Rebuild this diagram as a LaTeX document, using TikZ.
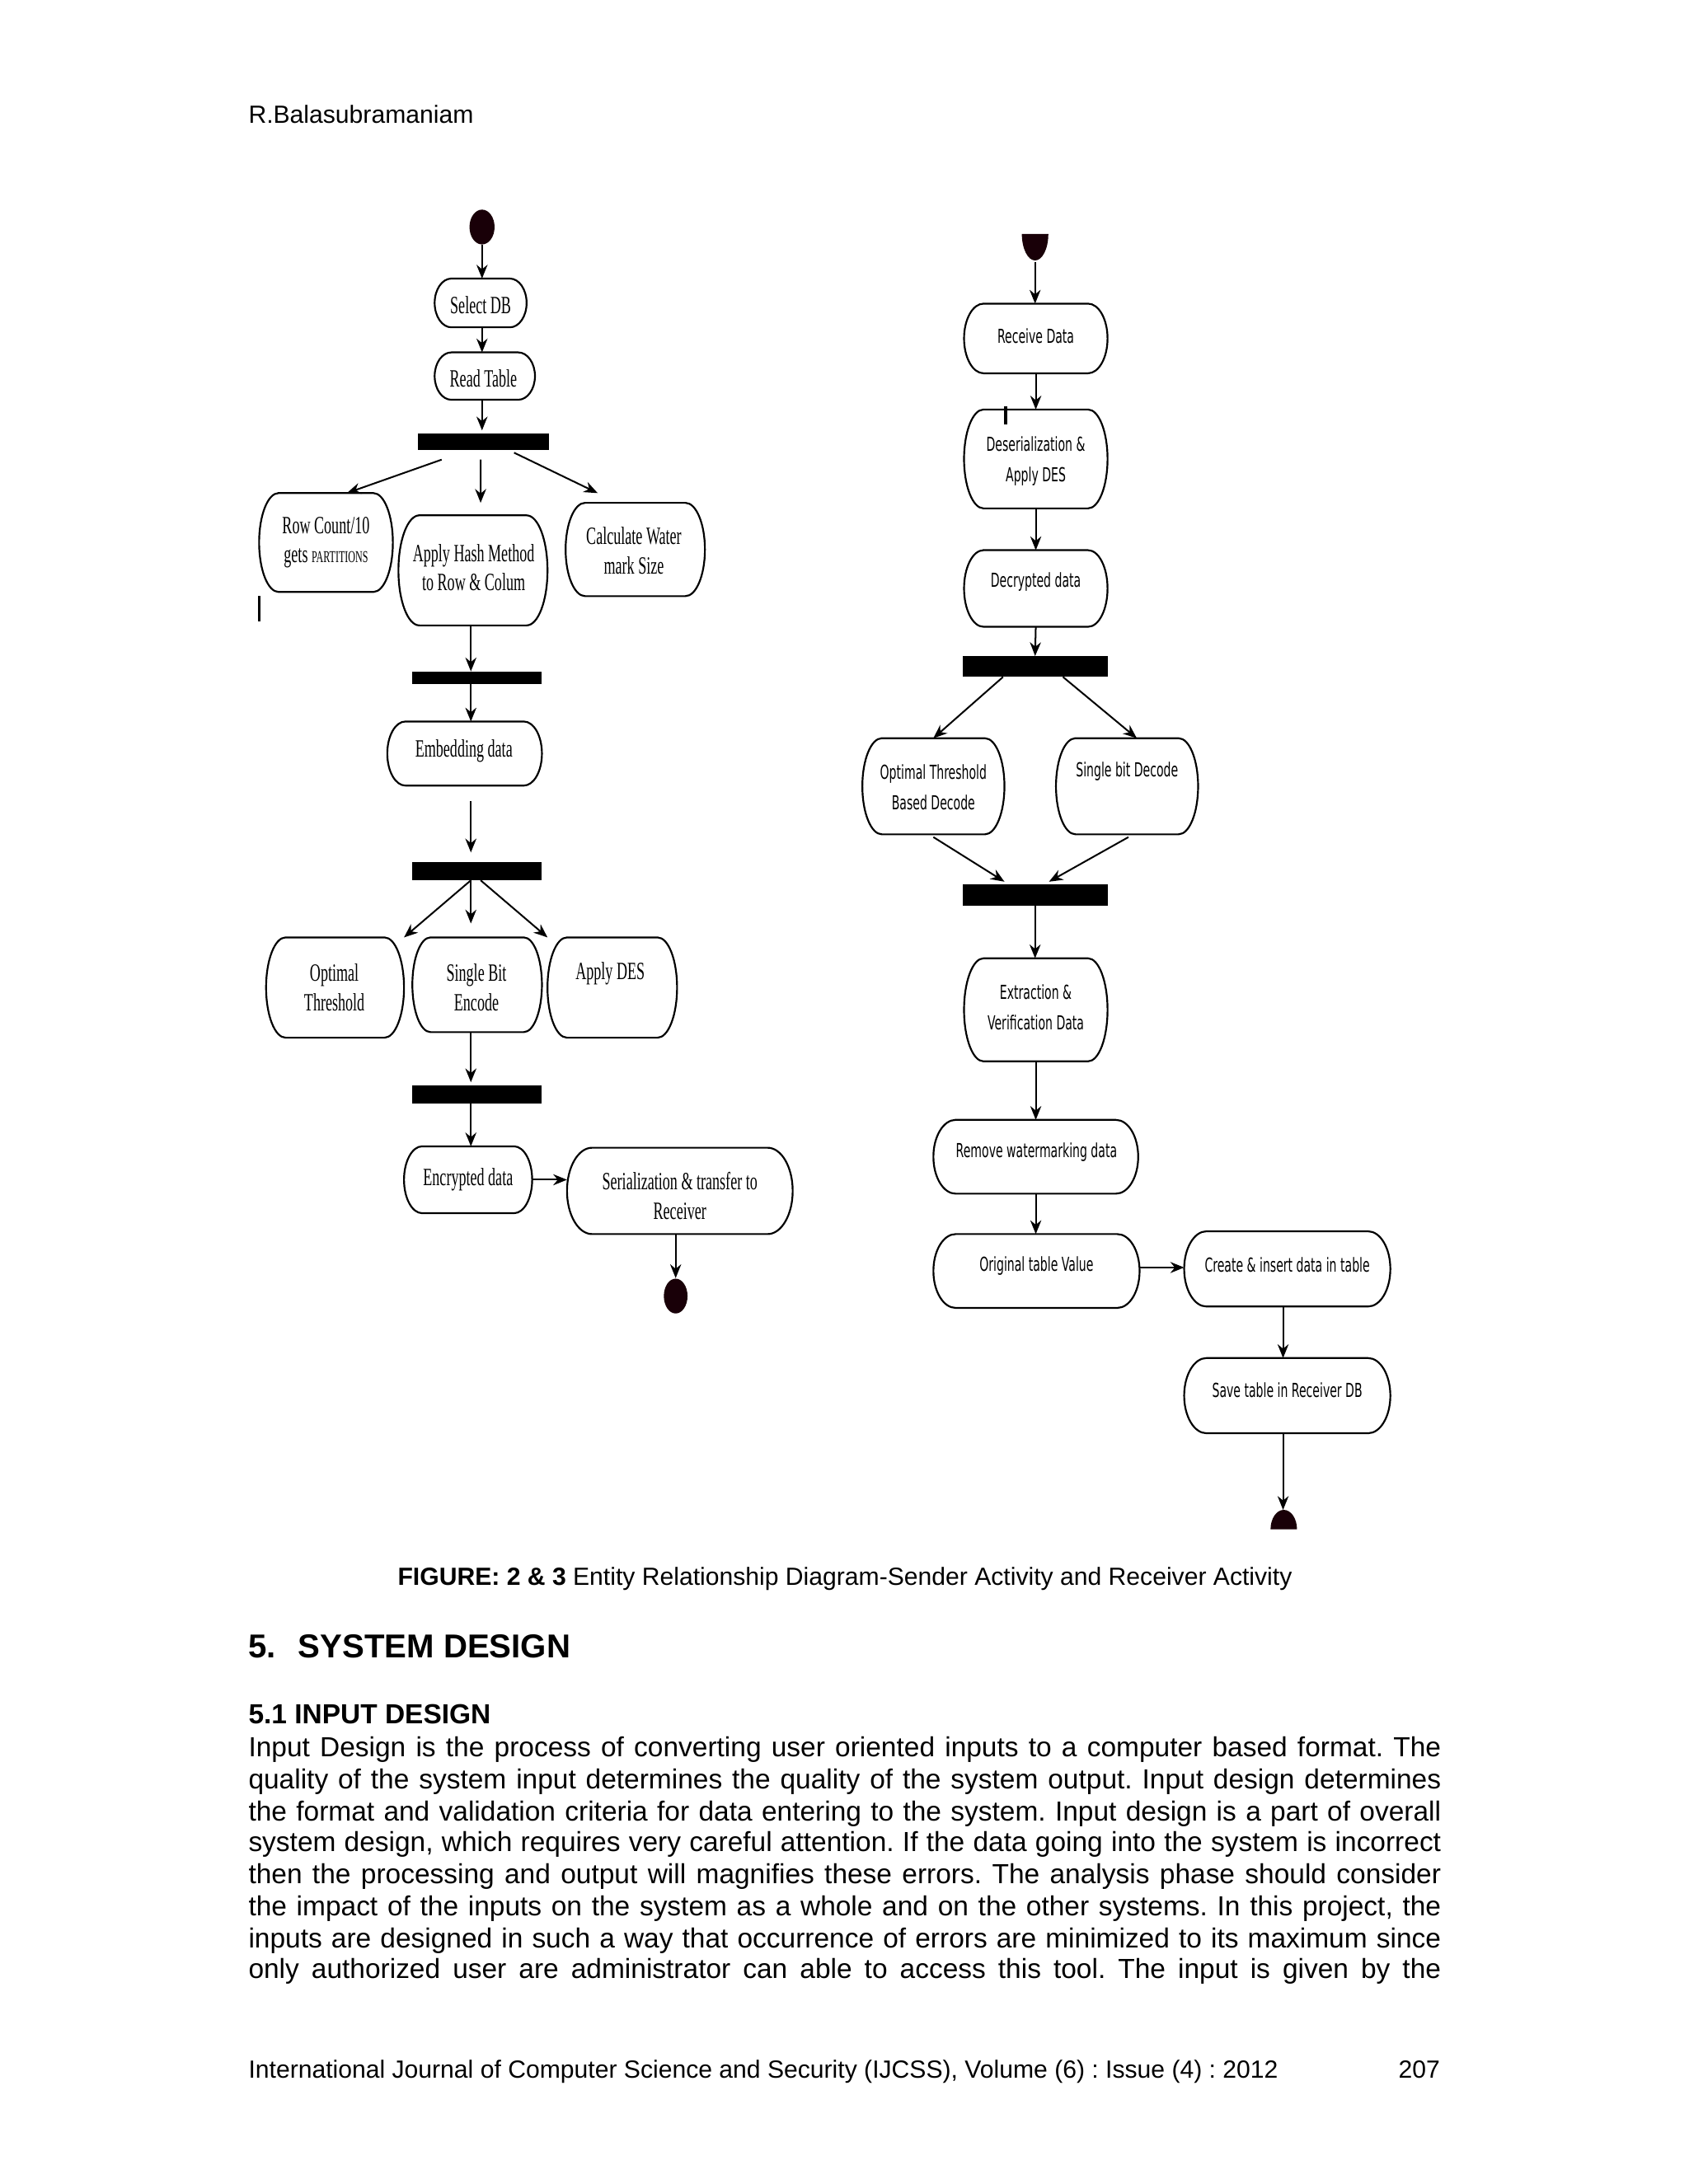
\documentclass[tikz,border=0pt]{standalone}
\usepackage{fontspec}
\setmainfont{Liberation Sans}
\newfontfamily\lfont[FakeStretch=0.6]{Liberation Serif}
\newfontfamily\rfont[FakeStretch=0.6]{DejaVu Sans}
\usetikzlibrary{arrows.meta,calc,shapes.geometric}
\definecolor{dotfill}{RGB}{25,0,8}
\tikzset{
 lbl/.style={font=\lfont\fontsize{9}{10.6}\selectfont, align=center, inner sep=0},
 rbl/.style={font=\rfont\fontsize{7}{11.1}\selectfont, align=center, inner sep=0},
 arr/.style={-{Stealth[length=5pt,width=4pt]}, line width=0.6pt},
 barnode/.style={fill=black, draw=none, inner sep=0, outer sep=0},
 holder/.style={inner sep=0, outer sep=0},
 boxline/.style={line width=0.65pt},
 txt/.style={inner sep=0, anchor=mid west, font=\fontsize{10}{12}\selectfont},
 tick/.style={line width=1.1pt},
}
\newcommand\actbox[6]{%
  \node[holder, minimum width={(#4-#2)*0.5049pt}, minimum height={(#5-#3)*0.5049pt}] (#1) at ({(#2+#4)/2},{(#3+#5)/2}) {};
  \draw[boxline] ({#2+#6},#3) -- ({#4-#6},#3) arc[start angle=90,end angle=-90,x radius={#6*0.5049pt},y radius={(#5-#3)/2*0.5049pt}] -- ({#2+#6},#5) arc[start angle=270,end angle=90,x radius={#6*0.5049pt},y radius={(#5-#3)/2*0.5049pt}] -- cycle;
}
\newcommand\barbox[5]{%
  \node[barnode, minimum width={(#4-#2)*0.5049pt}, minimum height={(#5-#3)*0.5049pt}] (#1) at ({(#2+#4)/2},{(#3+#5)/2}) {};
}
\begin{document}
\frenchspacing
\begin{tikzpicture}[x=0.5049pt,y=-0.5049pt]
\fill[white] (0,0) rectangle (1212,1568);
\useasboundingbox (0,0) rectangle (1212,1568);

% ---------- header ----------
\node[txt, font=\fontsize{9}{11}\selectfont] (hdr) at (178,83) {R.Balasubramaniam};

% ---------- left diagram: sender activity ----------
\node[ellipse, fill=dotfill, inner sep=0, minimum width={18*0.5049pt}, minimum height={25*0.5049pt}] (lstart) at (346,163) {};
\actbox{seldb}{312}{200}{378}{235}{12}
\actbox{readt}{312}{253}{384}{287}{12}
\barbox{bar1}{300}{311}{394}{323}
\actbox{rowc}{186}{354}{282}{425}{14}
\actbox{hash}{286}{370}{393}{449}{15}
\actbox{calc}{406}{361}{506}{428}{14}
\barbox{bar2}{296}{482}{389}{491}
\actbox{embed}{278}{518}{389}{564}{13}
\barbox{bar3}{296}{619}{389}{632}
\actbox{optt}{191}{673}{290}{745}{14}
\actbox{sbe}{296}{673}{389}{741}{13}
\actbox{ades}{393}{673}{486}{745}{14}
\barbox{bar4}{296}{779}{389}{792}
\actbox{encr}{290}{823}{382}{871}{13}
\actbox{seri}{407}{824}{569}{886}{18}
\node[ellipse, fill=dotfill, inner sep=0, minimum width={17*0.5049pt}, minimum height={25*0.5049pt}] (lend) at (485,930.5) {};

\node[lbl] (t-seldb) at (345,219) {Select DB};
\node[lbl] (t-readt) at (347,272) {Read Table};
\node[lbl] (t-rowc) at (234,389.5) {Row Count/10\\gets {\fontsize{6}{7}\selectfont PARTITIONS}};
\node[lbl] (t-hash) at (340,407.5) {Apply Hash Method\\to Row \& Colum};
\node[lbl] (t-calc) at (455,395.5) {Calculate Water\\mark Size};
\node[lbl] (t-embed) at (333,539) {Embedding data};
\node[lbl] (t-optt) at (240,709) {Optimal\\Threshold};
\node[lbl] (t-sbe) at (342,709) {Single Bit\\Encode};
\node[lbl] (t-ades) at (438,699) {Apply DES};
\node[lbl] (t-encr) at (336,847) {Encrypted data};
\node[lbl] (t-seri) at (488,858.5) {Serialization \& transfer to\\Receiver};

\draw[arr] (lstart.south) -- (seldb.north -| lstart.south);
\draw[arr] (seldb.south -| lstart.south) -- (readt.north -| lstart.south);
\draw[arr] (readt.south -| lstart.south) -- ($(bar1.north -| lstart.south)+(0,-2)$);
\draw[arr] ($(bar1.south)+(-30,7)$) -- ($(rowc.north)+(15,0)$);
\draw[arr] ($(bar1.south)+(-2,7)$) -- ($(hash.north)+(5.5,-9)$);
\draw[arr] ($(bar1.south)+(22,2)$) -- ($(calc.north)+(-27,-7)$);
\draw[arr] (hash.south -| 338,0) -- (bar2.north -| 338,0);
\draw[arr] (bar2.south -| 338,0) -- (embed.north -| 338,0);
\draw[arr] ($(embed.south -| 338,0)+(0,11)$) -- ($(bar3.north -| 338,0)+(0,-7)$);
\draw[arr] (bar3.south -| 338,0) -- (optt.north east);
\draw[arr] (bar3.south -| 338,0) -- ($(sbe.north -| 338,0)+(0,-10)$);
\draw[arr] (bar3.south -| 345,0) -- (ades.north west);
\draw[arr] (sbe.south -| 338,0) -- ($(bar4.north -| 338,0)+(0,-2)$);
\draw[arr] (bar4.south -| 338,0) -- (encr.north -| 338,0);
\draw[arr] (encr.east |- 0,847) -- (seri.west |- 0,847);
\draw[arr] (seri.south -| lend.north) -- (lend.north);

\draw[tick] (186,428) -- (186,446);

% ---------- right diagram: receiver activity ----------
\node[holder, minimum width={19*0.5049pt}, minimum height={20*0.5049pt}] (rstart) at (743,178) {};
\fill[dotfill] (752.5,168) arc[start angle=0,end angle=-180,x radius={9.5*0.5049pt},y radius={19*0.5049pt}] -- cycle;
\actbox{rec}{692}{218}{795}{268}{14}
\actbox{deser}{692}{294}{795}{365}{14}
\actbox{decr}{692}{395}{795}{450}{14}
\barbox{rbar1}{691}{471}{795}{486}
\actbox{otbd}{619}{530}{721}{599}{14}
\actbox{sbd}{758}{530}{860}{599}{14}
\barbox{rbar2}{691}{635}{795}{650}
\actbox{ext}{692}{688}{795}{762}{14}
\actbox{rem}{670}{804}{817}{857}{16}
\actbox{orig}{670}{886}{818}{939}{16}
\actbox{crt}{850}{884}{998}{938}{16}
\actbox{save}{850}{975}{998}{1029}{16}
\node[holder, minimum width={19*0.5049pt}, minimum height={14*0.5049pt}] (rend) at (921.5,1091) {};
\fill[dotfill] (912,1098) arc[start angle=180,end angle=0,x radius={9.5*0.5049pt},y radius={14*0.5049pt}] -- cycle;

\node[rbl] (t-rec) at (743.5,241) {Receive Data};
\node[rbl] (t-deser) at (743.5,331) {Deserialization \&\\Apply DES};
\node[rbl] (t-decr) at (743.5,418) {Decrypted data};
\node[rbl] (t-otbd) at (670,565) {Optimal Threshold\\Based Decode};
\node[rbl] (t-sbd) at (809,554) {Single bit Decode};
\node[rbl] (t-ext) at (743.5,723) {Extraction \&\\Verification Data};
\node[rbl] (t-rem) at (744,827) {Remove watermarking data};
\node[rbl] (t-orig) at (744,909) {Original table Value};
\node[rbl] (t-crt) at (924,908) {Create \& insert data in table};
\node[rbl] (t-save) at (924,998) {Save table in Receiver DB};

\draw[arr] (rstart.south) -- (rec.north -| rstart.south);
\draw[arr] (rec.south) -- (deser.north);
\draw[arr] (deser.south) -- (decr.north);
\draw[arr] (decr.south) -- (rbar1.north);
\draw[arr] ($(rbar1.south)+(-23,0)$) -- (otbd.north);
\draw[arr] ($(rbar1.south)+(20,0)$) -- ($(sbd.north)+(7,0)$);
\draw[arr] ($(otbd.south)+(0,2)$) -- ($(rbar2.north)+(-22,-2)$);
\draw[arr] ($(sbd.south)+(1,2)$) -- ($(rbar2.north)+(10,-2)$);
\draw[arr] (rbar2.south) -- (ext.north -| rbar2.south);
\draw[arr] (ext.south) -- (rem.north -| ext.south);
\draw[arr] (rem.south -| ext.south) -- (orig.north -| ext.south);
\draw[arr] (orig.east |- 0,910) -- (crt.west |- 0,910);
\draw[arr] (crt.south -| 921,0) -- (save.north -| 921,0);
\draw[arr] (save.south -| 921,0) -- (rend.north -| 921,0);

\draw[tick] (722,292) -- (722,305);

% ---------- caption and body ----------
\node[inner sep=0, anchor=mid, font=\fontsize{9}{11}\selectfont] (cap) at (606.5,1133) {\textbf{FIGURE: 2 \& 3} Entity Relationship Diagram-Sender Activity and Receiver Activity};
\node[txt, font=\bfseries\fontsize{12}{14}\selectfont] (sec) at (178,1185) {5.\hspace{8pt}SYSTEM DESIGN};
\node[txt, font=\bfseries\fontsize{10}{12}\selectfont] (sub) at (178,1232) {5.1 INPUT DESIGN};
\node[txt] (p1) at (178,1256) {\makebox[432.2pt][s]{Input Design is the process of converting user oriented inputs to a computer based format. The}};
\node[txt] (p2) at (178,1279) {\makebox[432.2pt][s]{quality of the system input determines the quality of the system output. Input design determines}};
\node[txt] (p3) at (178,1302) {\makebox[432.2pt][s]{the format and validation criteria for data entering to the system. Input design is a part of overall}};
\node[txt] (p4) at (178,1324) {\makebox[432.2pt][s]{system design, which requires very careful attention. If the data going into the system is incorrect}};
\node[txt] (p5) at (178,1347) {\makebox[432.2pt][s]{then the processing and output will magnifies these errors. The analysis phase should consider}};
\node[txt] (p6) at (178,1370) {\makebox[432.2pt][s]{the impact of the inputs on the system as a whole and on the other systems. In this project, the}};
\node[txt] (p7) at (178,1393) {\makebox[432.2pt][s]{inputs are designed in such a way that occurrence of errors are minimized to its maximum since}};
\node[txt] (p8) at (178,1415) {\makebox[432.2pt][s]{only authorized user are administrator can able to access this tool. The input is given by the}};

\node[txt, font=\fontsize{9}{11}\selectfont] (foot) at (178,1487) {International Journal of Computer Science and Security (IJCSS), Volume (6) : Issue (4) : 2012};
\node[inner sep=0, anchor=mid east, font=\fontsize{9}{11}\selectfont] (pg) at (1034,1487) {207};
\end{tikzpicture}
\end{document}
